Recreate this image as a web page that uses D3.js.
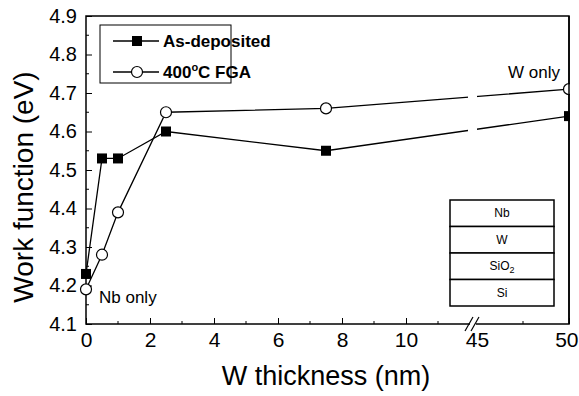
<!DOCTYPE html>
<html>
<head>
<meta charset="utf-8">
<script src="https://cdn.jsdelivr.net/npm/d3@7"></script>
<style>
  body { margin: 0; background: #fff; }
  text { font-family: "Liberation Sans", Arial, sans-serif; fill: #000; }
</style>
</head>
<body>
<div id="chart"></div>
<script>
// data
const thickness = [0, 0.5, 1, 2.5, 7.5, 50];
const asDeposited = [4.23, 4.53, 4.53, 4.60, 4.55, 4.64];
const fga = [4.19, 4.28, 4.39, 4.65, 4.66, 4.71];
const xTickValues = [0, 2, 4, 6, 8, 10, 45, 50];
const xMinorValues = [1, 3, 5, 7, 9, 11, 47.5];
const yTickValues = [4.1, 4.2, 4.3, 4.4, 4.5, 4.6, 4.7, 4.8, 4.9];
const stackLayers = ["Nb", "W", "SiO2", "Si"];

const width = 579, height = 396;
const mLeft = 86, mRight = 569, mTop = 16, mBottom = 324;

const svg = d3.select('#chart').append('svg')
  .attr('width', width)
  .attr('height', height);

// broken x axis: 0..12 then 45..50
const x = d3.scaleLinear()
  .domain([0, 12, 45, 50])
  .range([mLeft, 470, 477, mRight]);
const y = d3.scaleLinear()
  .domain([4.1, 4.9])
  .range([mBottom, mTop]);

// frame
svg.append('rect')
  .attr('x', mLeft).attr('y', mTop)
  .attr('width', mRight - mLeft).attr('height', mBottom - mTop)
  .attr('fill', 'none').attr('stroke', '#000').attr('stroke-width', 1.5);

// y axis ticks (inward)
const yAxis = d3.axisLeft(y).tickValues(yTickValues).tickSize(-6).tickPadding(9)
  .tickFormat(d3.format('.1f'));
const gy = svg.append('g').attr('transform', 'translate(' + mLeft + ',0)').call(yAxis);
gy.select('.domain').remove();
gy.selectAll('text').style('font-size', '20px');
const yMinor = d3.range(4.15, 4.9, 0.1);
svg.append('g').selectAll('line').data(yMinor).enter().append('line')
  .attr('x1', mLeft).attr('x2', mLeft + 3)
  .attr('y1', d => y(d)).attr('y2', d => y(d))
  .attr('stroke', '#000');

// x axis ticks (inward)
const xAxis = d3.axisBottom(x).tickValues(xTickValues).tickSize(-6).tickPadding(8)
  .tickFormat(d3.format('d'));
const gx = svg.append('g').attr('transform', 'translate(0,' + mBottom + ')').call(xAxis);
gx.select('.domain').remove();
gx.selectAll('.tick').filter(d => d === 45).select('line').remove();
gx.selectAll('text').style('font-size', '21px');
// last label sits at the page edge
gx.selectAll('.tick').filter(d => d === 50).select('text')
  .attr('text-anchor', 'end').attr('x', 9);
svg.append('g').selectAll('line').data(xMinorValues).enter().append('line')
  .attr('x1', d => x(d)).attr('x2', d => x(d))
  .attr('y1', mBottom).attr('y2', mBottom - 3)
  .attr('stroke', '#000');

// axis break marks
const bx = x(12) + 2;
svg.append('rect').attr('x', bx - 2).attr('y', mBottom - 2).attr('width', 6).attr('height', 4).attr('fill', '#fff');
[-3, 3].forEach(off => {
  svg.append('line')
    .attr('x1', bx + off - 4).attr('y1', mBottom + 7)
    .attr('x2', bx + off + 4).attr('y2', mBottom - 7)
    .attr('stroke', '#000').attr('stroke-width', 1.2);
});

// axis titles
svg.append('text')
  .attr('x', 326).attr('y', 385)
  .attr('text-anchor', 'middle')
  .style('font-size', '27px')
  .text('W thickness (nm)');
svg.append('text')
  .attr('transform', 'translate(33,187) rotate(-90)')
  .attr('text-anchor', 'middle')
  .style('font-size', '28px')
  .text('Work function (eV)');

// clip lines at the break
const defs = svg.append('defs');
const clip = defs.append('clipPath').attr('id', 'brk');
clip.append('rect').attr('x', mLeft).attr('y', mTop).attr('width', x(12) - 2 - mLeft).attr('height', mBottom - mTop);
clip.append('rect').attr('x', x(45)).attr('y', mTop).attr('width', mRight - x(45)).attr('height', mBottom - mTop);

const line = d3.line().x(d => x(d[0])).y(d => y(d[1]));
const sq = thickness.map((t, i) => [t, asDeposited[i]]);
const ci = thickness.map((t, i) => [t, fga[i]]);

const plot = svg.append('g');
plot.append('path').datum(sq).attr('d', line)
  .attr('fill', 'none').attr('stroke', '#000').attr('stroke-width', 1.3)
  .attr('clip-path', 'url(#brk)');
plot.append('path').datum(ci).attr('d', line)
  .attr('fill', 'none').attr('stroke', '#000').attr('stroke-width', 1.3)
  .attr('clip-path', 'url(#brk)');

const s = 10;
plot.selectAll('.sq').data(sq).enter().append('rect')
  .attr('class', 'sq')
  .attr('x', d => x(d[0]) - s / 2).attr('y', d => y(d[1]) - s / 2)
  .attr('width', s).attr('height', s)
  .attr('fill', '#000');
plot.selectAll('.ci').data(ci).enter().append('circle')
  .attr('class', 'ci')
  .attr('cx', d => x(d[0])).attr('cy', d => y(d[1]))
  .attr('r', 5.5)
  .attr('fill', '#fff').attr('stroke', '#000').attr('stroke-width', 1.2);

// white out what spills beyond the right edge, then redraw the border
svg.append('rect').attr('x', mRight + 1).attr('y', mTop).attr('width', 20).attr('height', mBottom - mTop).attr('fill', '#fff');
svg.append('line').attr('x1', mRight).attr('x2', mRight).attr('y1', mTop).attr('y2', mBottom)
  .attr('stroke', '#000').attr('stroke-width', 1.5);

// annotations
svg.append('text').attr('x', 99).attr('y', 303).style('font-size', '17px').text('Nb only');
svg.append('text').attr('x', 560).attr('y', 78).attr('text-anchor', 'end').style('font-size', '17px').text('W only');

// legend
const lg = svg.append('g');
lg.append('rect').attr('x', 100).attr('y', 25).attr('width', 131).attr('height', 58)
  .attr('fill', '#fff').attr('stroke', '#000').attr('stroke-width', 1);
const legendRows = [
  { y: 41, mark: 'sq' },
  { y: 72, mark: 'ci' }
];
legendRows.forEach(r => {
  lg.append('line').attr('x1', 113).attr('x2', 159).attr('y1', r.y).attr('y2', r.y)
    .attr('stroke', '#000').attr('stroke-width', 1.3);
  if (r.mark === 'sq') {
    lg.append('rect').attr('x', 137 - 5).attr('y', r.y - 5).attr('width', 10).attr('height', 10).attr('fill', '#000');
  } else {
    lg.append('circle').attr('cx', 137).attr('cy', r.y).attr('r', 5.5)
      .attr('fill', '#fff').attr('stroke', '#000').attr('stroke-width', 1.2);
  }
});
lg.append('text').attr('x', 163).attr('y', 47).style('font-size', '17px').style('font-weight', 'bold')
  .text('As-deposited');
const t2 = lg.append('text').attr('x', 163).attr('y', 78).style('font-size', '17px').style('font-weight', 'bold');
t2.append('tspan').text('400');
t2.append('tspan').attr('dy', -7).style('font-size', '11px').text('o');
t2.append('tspan').attr('dy', 7).text('C FGA');

// layer stack inset
const stk = svg.append('g');
const bx0 = 450, bw = 104, by0 = 200, rh = 26.5;
stackLayers.forEach((name, i) => {
  stk.append('rect').attr('x', bx0).attr('y', by0 + i * rh).attr('width', bw).attr('height', rh)
    .attr('fill', '#fff').attr('stroke', '#000').attr('stroke-width', 1.5);
  const t = stk.append('text').attr('x', bx0 + bw / 2).attr('y', by0 + i * rh + rh / 2 + 4)
    .attr('text-anchor', 'middle').style('font-size', '12px');
  if (name === 'SiO2') {
    t.append('tspan').text('SiO');
    t.append('tspan').attr('dy', 3).style('font-size', '9px').text('2');
  } else {
    t.text(name);
  }
});
</script>
</body>
</html>
